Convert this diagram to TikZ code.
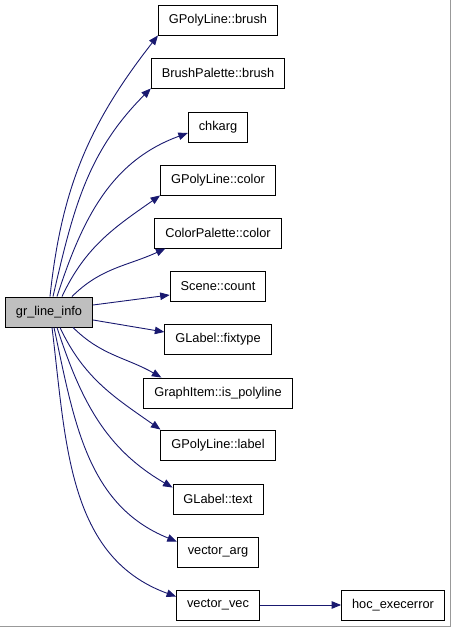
\documentclass[tikz,border=0pt]{standalone}
\usepackage{fontspec}
\setmainfont{Liberation Sans}
\usepackage{xcolor}
\usetikzlibrary{arrows.meta,positioning,calc}

\definecolor{edgeblue}{RGB}{25,25,112}
\definecolor{rootgray}{RGB}{191,191,191}

\tikzset{
  fnbox/.style={draw=black, line width=0.9pt, fill=white, minimum height=30pt,
    inner xsep=10.5pt, font=\fontsize{12.8}{15}\selectfont},
  rootbox/.style={fnbox, fill=rootgray},
  call/.style={edgeblue, line width=0.9pt, -{Triangle[length=9.5pt,width=7.5pt]}}
}

\begin{document}
\begin{tikzpicture}[x=1pt,y=1pt]
\useasboundingbox (0,0) rectangle (451,627);
\draw[gray!80, line width=1pt] (450.5,627) -- (450.5,0.5) -- (0,0.5);

\node[rootbox] (info) at (49,315) {gr\_line\_info};

\foreach \name/\txt/\ypos in {gpbrush/GPolyLine::brush/607, bpbrush/BrushPalette::brush/554,
    chkarg/chkarg/500, gpcolor/GPolyLine::color/447, cpcolor/ColorPalette::color/394,
    count/Scene::count/341, fixtype/GLabel::fixtype/288, ispoly/GraphItem::is\_polyline/234,
    gplabel/GPolyLine::label/182, gltext/GLabel::text/128, varg/vector\_arg/75,
    vvec/vector\_vec/22}
  \node[fnbox] (\name) at (218,\ypos) {\txt};

\node[fnbox] (hoc) at (393,22) {hoc\_execerror};

% calls from gr_line_info, upward
\draw[call] ([xshift=1pt]info.north) to[out=84, in=232] (gpbrush.south west);
\draw[call] ([xshift=4pt]info.north) to[out=77, in=225] (bpbrush.south west);
\draw[call] ([xshift=8pt]info.north) to[out=72, in=200] ([yshift=-6pt]chkarg.west);
\draw[call] ([xshift=13pt]info.north) to[out=65, in=215] (gpcolor.south west);
\draw[call] ([xshift=23pt]info.north) to[out=45, in=205] ([xshift=11pt]cpcolor.south west);
% straight ones
\draw[call] ([yshift=7pt]info.east) -- ([yshift=-9pt]count.west);
\draw[call] ([yshift=-8pt]info.east) -- ([yshift=7pt]fixtype.west);
% downward
\draw[call] ([xshift=24pt]info.south) to[out=-45, in=150] ([xshift=18pt]ispoly.north west);
\draw[call] ([xshift=11pt]info.south) to[out=-65, in=145] (gplabel.north west);
\draw[call] ([xshift=8pt]info.south) to[out=-72, in=150] ([yshift=-4pt]gltext.north west);
\draw[call] ([xshift=5pt]info.south) to[out=-78, in=158] ([yshift=-5pt]varg.north west);
\draw[call] ([xshift=3pt]info.south) to[out=-83, in=160] ([yshift=-7pt]vvec.north west);
\draw[call] (vvec) -- (hoc);
\end{tikzpicture}
\end{document}
